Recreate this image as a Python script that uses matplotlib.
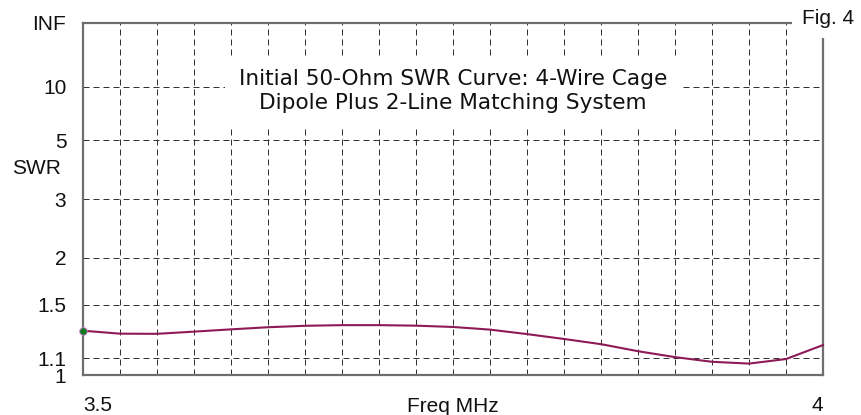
import matplotlib
matplotlib.use("Agg")
import matplotlib.pyplot as plt

# SWR sweep across 80 m band (MHz)
freq_mhz = [3.500, 3.525, 3.550, 3.575, 3.600, 3.625, 3.650, 3.675, 3.700,
            3.725, 3.750, 3.775, 3.800, 3.825, 3.850, 3.875, 3.900, 3.925,
            3.950, 3.975, 4.000]
swr = [1.288, 1.266, 1.265, 1.281, 1.298, 1.314, 1.325, 1.330, 1.330,
       1.326, 1.316, 1.296, 1.263, 1.228, 1.192, 1.145, 1.107, 1.078,
       1.067, 1.095, 1.186]

swr_ticks = [1.0, 1.1, 1.5, 2.0, 3.0, 5.0, 10.0, float("inf")]
swr_tick_labels = ["1", "1.1", "1.5", "2", "3", "5", "10", "INF"]
swr_grid = [1.1, 1.5, 2.0, 3.0, 5.0, 10.0]
freq_ticks = [3.5, 4.0]
freq_tick_labels = ["3.5", "4"]
freq_grid_step = 0.025

title = "Initial 50-Ohm SWR Curve: 4-Wire Cage\nDipole Plus 2-Line Matching System"


def rho(s):
    """Reflection coefficient magnitude used as the vertical scale."""
    if s == float("inf"):
        return 1.0
    return (s - 1.0) / (s + 1.0)


plt.rcParams['font.family'] = ['Liberation Sans', 'DejaVu Sans']

fig = plt.figure(figsize=(8.62, 4.15), dpi=100)
ax = fig.add_axes([83 / 862, 1 - 375 / 415, 740 / 862, 352 / 415])

grid_kw = dict(color="#333333", lw=0.72, dashes=(6, 4), zorder=1)
for s in swr_grid:
    ax.axhline(rho(s), **grid_kw)
n_steps = round((freq_mhz[-1] - freq_mhz[0]) / freq_grid_step)
for i in range(1, n_steps):
    ax.axvline(freq_mhz[0] + i * freq_grid_step, **grid_kw)

ax.plot(freq_mhz, [rho(s) for s in swr], color="#8e1a55", lw=1.5, zorder=3,
        clip_on=False)
ax.plot(freq_mhz[0], rho(swr[0]), "o", ms=5.5, mfc="#137a1f", mec="#d27ad2",
        mew=0.6, zorder=4, clip_on=False)

ax.set_xlim(freq_mhz[0], freq_mhz[-1])
ax.set_ylim(0, 1)
ax.set_yticks([rho(s) for s in swr_ticks])
ax.set_yticklabels(swr_tick_labels)
ax.set_xticks(freq_ticks)
ax.set_xticklabels(freq_tick_labels)
for lab, ha in zip(ax.get_xticklabels(), ["left", "right"]):
    lab.set_ha(ha)
ax.tick_params(axis="both", length=0, labelsize=15, colors="#111111")
ax.tick_params(axis="y", pad=12)
ax.tick_params(axis="x", pad=15)

for sp in ax.spines.values():
    sp.set_color("#6e6e6e")
    sp.set_linewidth(1.6)

ax.text(0.5, -(411.5 - 375) / 352, "Freq MHz", transform=ax.transAxes,
        ha="center", va="baseline", fontsize=15, color="#111111")
fig.text(61 / 862, 1 - 168.5 / 415, "SWR", ha="right", va="center",
         fontsize=15, color="#111111")

ax.text(0.5, (375 - 91) / 352, title, transform=ax.transAxes,
        ha="center", va="center", fontsize=15.6, family="DejaVu Sans",
        linespacing=1.2, color="#111111", zorder=5,
        bbox=dict(facecolor="white", edgecolor="none", pad=10))

fig.text(802 / 862, 1 - 24 / 415, "Fig. 4", ha="left", va="baseline",
         fontsize=15, color="#111111", zorder=10,
         bbox=dict(facecolor="white", edgecolor="none", pad=7))

fig.savefig("out.png", dpi=100)
